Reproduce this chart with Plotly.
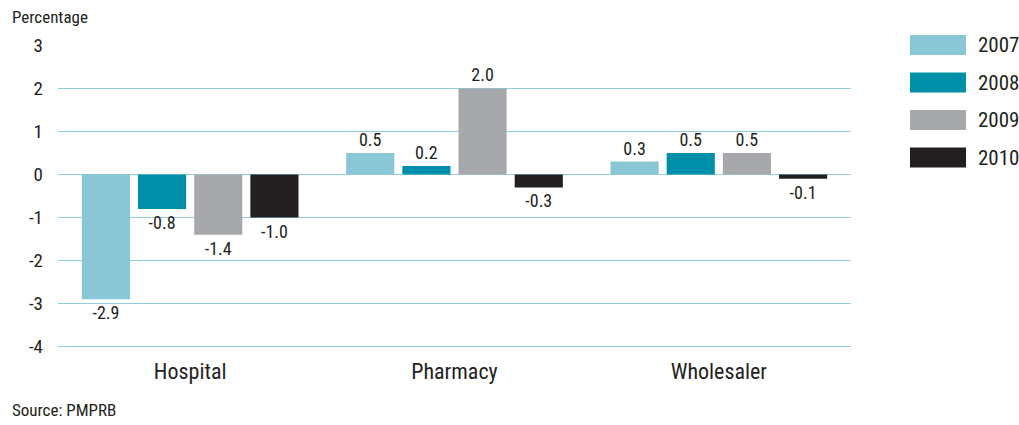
import plotly.graph_objects as go

categories = ["Hospital", "Pharmacy", "Wholesaler"]
years = ["2007", "2008", "2009", "2010"]
values = {
    "2007": [-2.9, 0.5, 0.3],
    "2008": [-0.8, 0.2, 0.5],
    "2009": [-1.4, 2.0, 0.5],
    "2010": [-1.0, -0.3, -0.1],
}
colors = ["#89c6d6", "#008fa8", "#a7a8ac", "#231f20"]
y_ticks = [3, 2, 1, 0, -1, -2, -3, -4]

FONT = "Roboto Condensed, Liberation Sans Narrow, Roboto, sans-serif"
TEXT = "#231f20"
GRID = "#8fcfdf"

fig = go.Figure()
for year, color in zip(years, colors):
    vals = values[year]
    fig.add_trace(go.Bar(
        x=categories, y=vals, name=year,
        marker=dict(color=color, line=dict(width=0)),
        text=[f"{v:.1f}" for v in vals],
        textposition="outside",
        textfont=dict(family=FONT, size=18, color=TEXT),
        cliponaxis=False,
        showlegend=False,
    ))

# Bottom gridline at the lower end of the axis range
fig.add_shape(type="line", xref="paper", yref="y", x0=0, x1=1,
              y0=y_ticks[-1], y1=y_ticks[-1], line=dict(color=GRID, width=1.3),
              layer="below")

# Legend drawn as large swatches on the right
for i, (year, color) in enumerate(zip(years, colors)):
    y0 = 35 + i * 37.5
    fig.add_shape(type="rect", xref="paper", yref="paper",
                  x0=(910 - 58) / 793, x1=(966 - 58) / 793,
                  y0=(347 - (y0 + 20)) / 302, y1=(347 - y0) / 302,
                  fillcolor=color, line=dict(width=0))
    fig.add_annotation(xref="paper", yref="paper",
                       x=(976 - 58) / 793, y=(347 - (y0 + 10)) / 302,
                       text=year, showarrow=False, xanchor="left", yanchor="middle",
                       font=dict(family=FONT, size=21, color=TEXT))

fig.add_annotation(xref="paper", yref="paper", x=(10 - 58) / 793, y=(347 - 17) / 302,
                   text="Percentage", showarrow=False, xanchor="left", yanchor="middle",
                   font=dict(family=FONT, size=17, color=TEXT))
fig.add_annotation(xref="paper", yref="paper", x=(10 - 58) / 793, y=(347 - 410) / 302,
                   text="Source: PMPRB", showarrow=False, xanchor="left", yanchor="middle",
                   font=dict(family=FONT, size=17, color=TEXT))

fig.update_layout(
    width=1019, height=425,
    margin=dict(l=58, r=168, t=45, b=78),
    paper_bgcolor="white", plot_bgcolor="white",
    barmode="group", bargap=0.15, bargroupgap=0.143,
    font=dict(family=FONT, color=TEXT),
    xaxis=dict(showgrid=False, showline=False, ticks="", ticklabelstandoff=9,
               tickfont=dict(family=FONT, size=22, color=TEXT)),
    yaxis=dict(range=[-4.01, 3.01], tickvals=y_ticks, ticktext=[str(t) for t in y_ticks],
               showgrid=True, gridcolor=GRID, gridwidth=1.3,
               zeroline=True, zerolinecolor=GRID, zerolinewidth=1.3,
               showline=False, ticks="", ticklabelstandoff=14,
               tickfont=dict(family=FONT, size=19, color=TEXT)),
)

fig.write_html("out.html")
